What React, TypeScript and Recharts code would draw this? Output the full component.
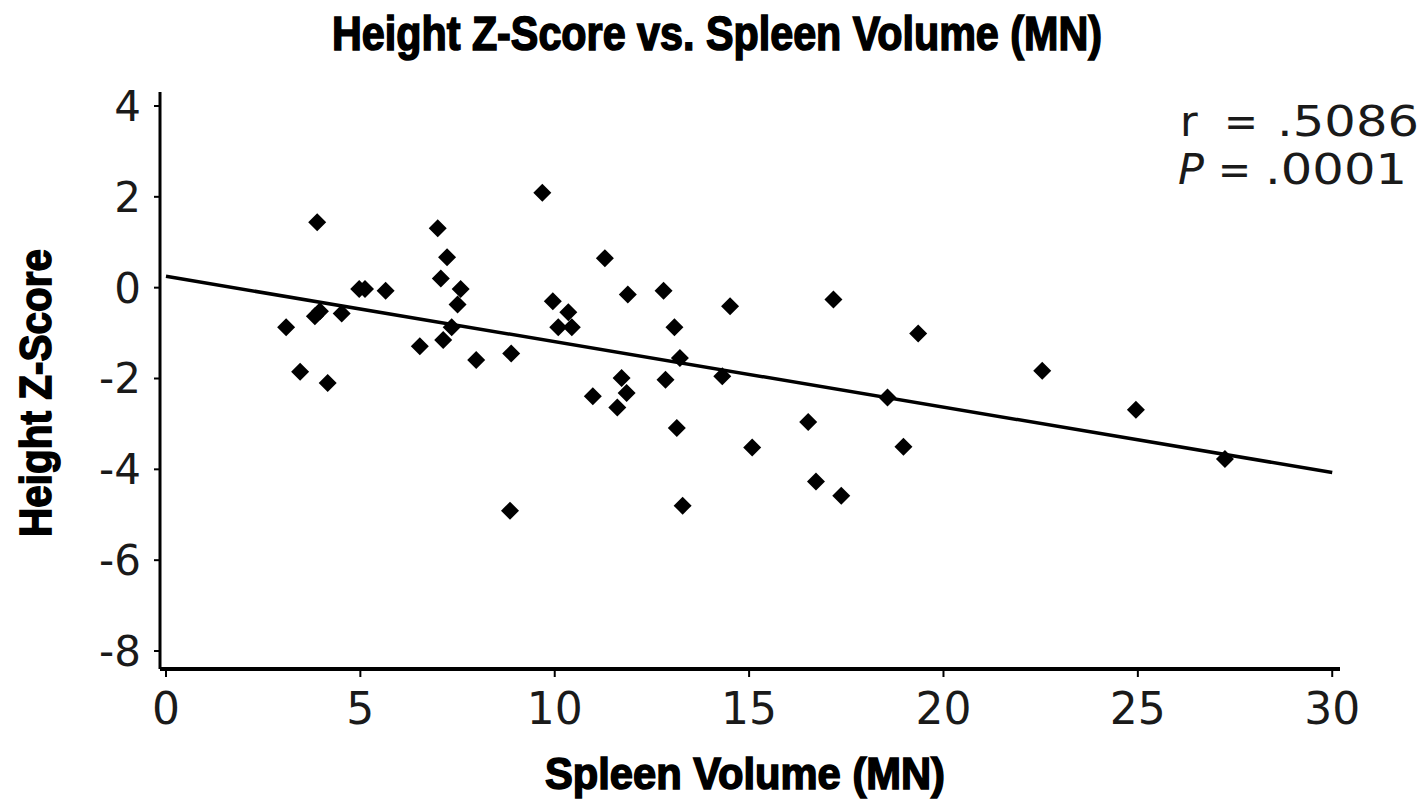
import React from "react";
import { ScatterChart, Scatter, XAxis, YAxis, ReferenceLine } from "recharts";

// Spleen volume (multiples of normal) per patient
const spleenVolume = [
  3.09, 3.45, 3.83, 3.89, 3.96, 4.16, 4.52, 4.97, 5.12, 5.65,
  6.53, 6.99, 7.07, 7.13, 7.23, 7.35, 7.5, 7.58, 7.98, 8.88,
  8.85, 9.68, 9.95, 10.09, 10.35, 10.44, 10.98, 11.29, 11.61, 11.72,
  11.85, 11.88, 12.8, 12.85, 13.08, 13.14, 13.22, 13.29, 14.31, 14.51,
  15.08, 16.52, 16.72, 17.17, 17.37, 18.56, 18.97, 19.35, 22.54, 24.95,
  27.24,
];

// Height Z-score per patient (same order as spleenVolume)
const heightZ = [
  -0.87, -1.85, -0.63, 1.44, -0.52, -2.1, -0.57, -0.03, -0.03, -0.07,
  -1.29, 1.31, 0.2, -1.15, 0.67, -0.87, -0.37, -0.03, -1.59, -1.45,
  -4.91, 2.09, -0.3, -0.87, -0.54, -0.87, -2.39, 0.65, -2.64, -1.99,
  -2.32, -0.15, -0.07, -2.03, -0.87, -3.09, -1.55, -4.8, -1.95, -0.41,
  -3.52, -2.96, -4.27, -0.26, -4.58, -2.42, -3.5, -1.01, -1.83, -2.69,
  -3.77,
];

// Least-squares fit line endpoints
const fitX = [0, 30];
const fitY = [0.25, -4.07];

const xTicks = [0, 5, 10, 15, 20, 25, 30];
const yTicks = [-8, -6, -4, -2, 0, 2, 4];

const titleText = "Height Z-Score vs. Spleen Volume (MN)";
const xLabel = "Spleen Volume (MN)";
const yLabel = "Height Z-Score";
const rText = ".5086";
const pText = ".0001";

const points = spleenVolume.map((x, i) => ({ x, y: heightZ[i] }));

const Diamond = (props: any) => {
  const { cx, cy } = props;
  const r = 9;
  return (
    <polygon
      points={`${cx},${cy - r} ${cx + r},${cy} ${cx},${cy + r} ${cx - r},${cy}`}
      fill="#000"
    />
  );
};

const xTickFont = { fontFamily: "DejaVu Sans", fontSize: 44, fill: "#1a1a1a" };
const yTickFont = { fontFamily: "DejaVu Sans", fontSize: 42, fill: "#1a1a1a" };
const boldFont = {
  fontFamily: "'Liberation Sans Narrow', 'Liberation Sans', Arial, sans-serif",
  fontWeight: 700,
  fill: "#000",
  stroke: "#000",
  strokeWidth: 1.6,
};
const statFont = { fontFamily: "DejaVu Sans", fontSize: 43, fill: "#1a1a1a" };

export default function App() {
  return (
    <div
      style={{
        position: "absolute",
        left: 0,
        top: 0,
        width: 1425,
        height: 799,
        background: "#fff",
      }}
    >
      <ScatterChart
        width={1425}
        height={799}
        margin={{ top: 92, right: 85, left: 0, bottom: 0 }}
      >
        <XAxis
          type="number"
          dataKey="x"
          domain={[-0.154, 30.2]}
          ticks={xTicks}
          allowDataOverflow
          height={130}
          axisLine={{ stroke: "#000", strokeWidth: 4 }}
          tickLine={{ stroke: "#000", strokeWidth: 2 }}
          tickSize={8}
          tickMargin={16}
          tick={xTickFont}
        />
        <YAxis
          type="number"
          dataKey="y"
          domain={[-8.396, 4.308]}
          ticks={yTicks}
          allowDataOverflow
          width={160}
          axisLine={{ stroke: "#000", strokeWidth: 3 }}
          tickLine={{ stroke: "#000", strokeWidth: 2 }}
          tickSize={6}
          tickMargin={13}
          tick={yTickFont}
        />
        <ReferenceLine
          segment={[
            { x: fitX[0], y: fitY[0] },
            { x: fitX[1], y: fitY[1] },
          ]}
          stroke="#000"
          strokeWidth={3.5}
          ifOverflow="visible"
        />
        <Scatter data={points} shape={<Diamond />} isAnimationActive={false} />
      </ScatterChart>

      <svg
        width={1425}
        height={799}
        style={{ position: "absolute", left: 0, top: 0, pointerEvents: "none" }}
      >
        <text
          x={717}
          y={50}
          textAnchor="middle"
          textLength={770}
          lengthAdjust="spacingAndGlyphs"
          fontSize={48}
          {...boldFont}
        >
          {titleText}
        </text>
        <text
          x={745}
          y={789}
          textAnchor="middle"
          textLength={400}
          lengthAdjust="spacingAndGlyphs"
          fontSize={45}
          {...boldFont}
        >
          {xLabel}
        </text>
        <text
          transform="translate(51,393) rotate(-90)"
          x={0}
          y={0}
          textAnchor="middle"
          textLength={288}
          lengthAdjust="spacingAndGlyphs"
          fontSize={45}
          {...boldFont}
        >
          {yLabel}
        </text>
        <text x={1180} y={136} {...statFont}>
          r
        </text>
        <text x={1224} y={136} textLength={34} lengthAdjust="spacingAndGlyphs" {...statFont}>
          =
        </text>
        <text x={1277} y={136} textLength={142} lengthAdjust="spacingAndGlyphs" {...statFont}>
          {rText}
        </text>
        <text x={1178} y={184} {...statFont} fontStyle="italic">
          P
        </text>
        <text x={1218} y={184} textLength={33} lengthAdjust="spacingAndGlyphs" {...statFont}>
          =
        </text>
        <text x={1265} y={184} textLength={142} lengthAdjust="spacingAndGlyphs" {...statFont}>
          {pText}
        </text>
      </svg>
    </div>
  );
}
